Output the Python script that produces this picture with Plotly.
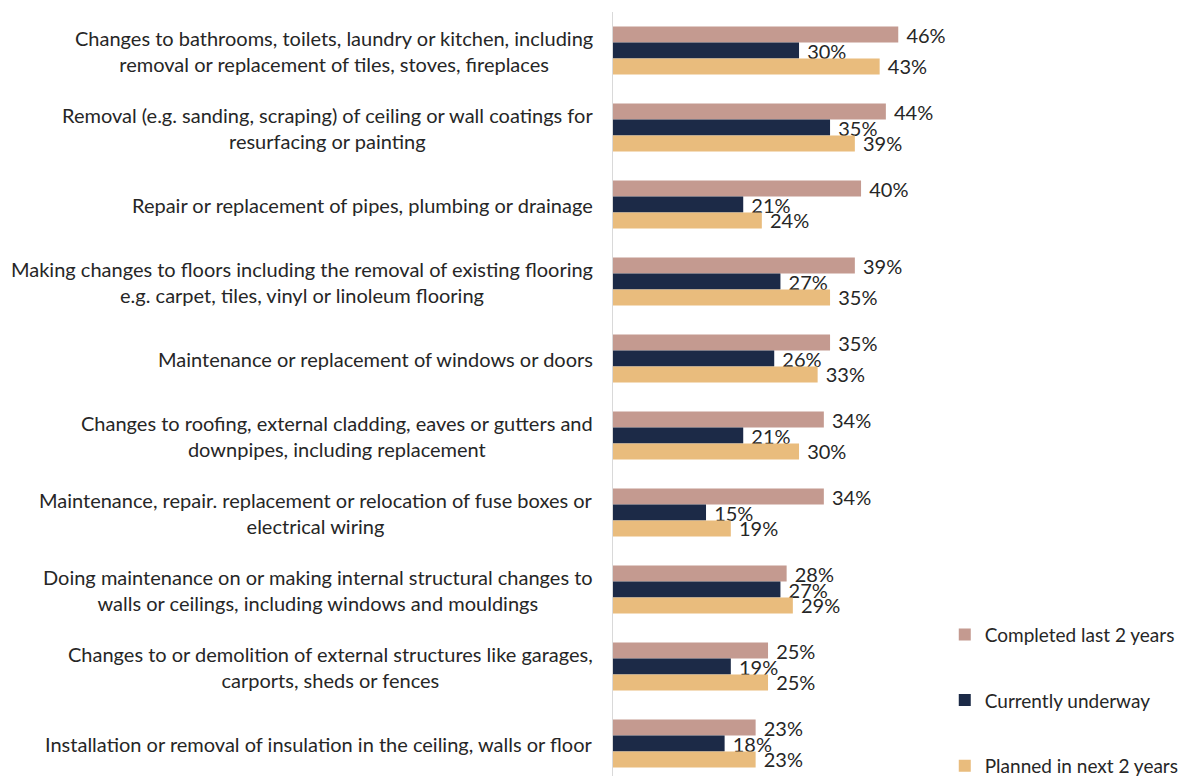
import plotly.graph_objects as go

# Renovation activities (top to bottom)
categories = [
    "Changes to bathrooms, toilets, laundry or kitchen, including<br>removal or replacement of tiles, stoves, fireplaces",
    "Removal (e.g. sanding, scraping) of ceiling or wall coatings for<br>resurfacing or painting",
    "Repair or replacement of pipes, plumbing or drainage",
    "Making changes to floors including the removal of existing flooring<br>e.g. carpet, tiles, vinyl or linoleum flooring",
    "Maintenance or replacement of windows or doors",
    "Changes to roofing, external cladding, eaves or gutters and<br>downpipes, including replacement",
    "Maintenance, repair. replacement or relocation of fuse boxes or<br>electrical wiring",
    "Doing maintenance on or making internal structural changes to<br>walls or ceilings, including windows and mouldings",
    "Changes to or demolition of external structures like garages,<br>carports, sheds or fences",
    "Installation or removal of insulation in the ceiling, walls or floor",
]

series_names = ["Completed last 2 years", "Currently underway", "Planned in next 2 years"]
completed = [46, 44, 40, 39, 35, 34, 34, 28, 25, 23]
underway = [30, 35, 21, 27, 26, 21, 15, 27, 19, 18]
planned = [43, 39, 24, 35, 33, 30, 19, 29, 25, 23]

colors = ["#C49A90", "#1C2A47", "#E9BC7D"]
FONT = "Lato, 'Open Sans', sans-serif"
TEXT_COLOR = "#262626"
LABEL_SIZE = 20
VALUE_SIZE = 20
LEGEND_SIZE = 19

fig = go.Figure()
for i, (name, vals) in enumerate(zip(series_names, [completed, underway, planned])):
    fig.add_trace(go.Bar(
        y=categories,
        x=vals,
        name=name,
        orientation="h",
        marker=dict(color=colors[i], line=dict(width=0)),
        text=[f"\u00a0{v}%" for v in vals],
        textposition="outside",
        constraintext="none",
        cliponaxis=False,
        textfont=dict(family=FONT, size=VALUE_SIZE, color=TEXT_COLOR),
        legendgroup=f"g{i}",
        hoverinfo="skip",
    ))

# Category labels as centred multi-line text to the left of the axis
for cat in categories:
    fig.add_annotation(
        x=0, y=cat, xref="x", yref="y",
        text=cat, showarrow=False,
        xanchor="right", yanchor="middle", xshift=-18,
        align="center",
        font=dict(family=FONT, size=LABEL_SIZE, color=TEXT_COLOR),
    )

fig.update_layout(
    width=1186, height=776,
    margin=dict(l=613, r=0, t=12, b=0, autoexpand=False),
    paper_bgcolor="white", plot_bgcolor="white",
    barmode="group", bargap=0.377, bargroupgap=0,
    font=dict(family=FONT, size=LABEL_SIZE, color=TEXT_COLOR),
    xaxis=dict(range=[0, 92.4], showgrid=False, zeroline=False,
               showticklabels=False, ticks="", showline=False, fixedrange=True),
    yaxis=dict(type="category", range=[9.422, -0.5], showgrid=False,
               zeroline=False, showticklabels=False, ticks="",
               showline=True, linecolor="#D9D9D9", linewidth=1),
    legend=dict(
        x=0.579, xanchor="left", y=-0.0125, yanchor="bottom",
        traceorder="grouped", tracegroupgap=38,
        font=dict(family=FONT, size=LEGEND_SIZE, color=TEXT_COLOR),
        bgcolor="rgba(0,0,0,0)", itemclick=False, itemdoubleclick=False,
    ),
    showlegend=True,
)

fig.write_html("out.html")
